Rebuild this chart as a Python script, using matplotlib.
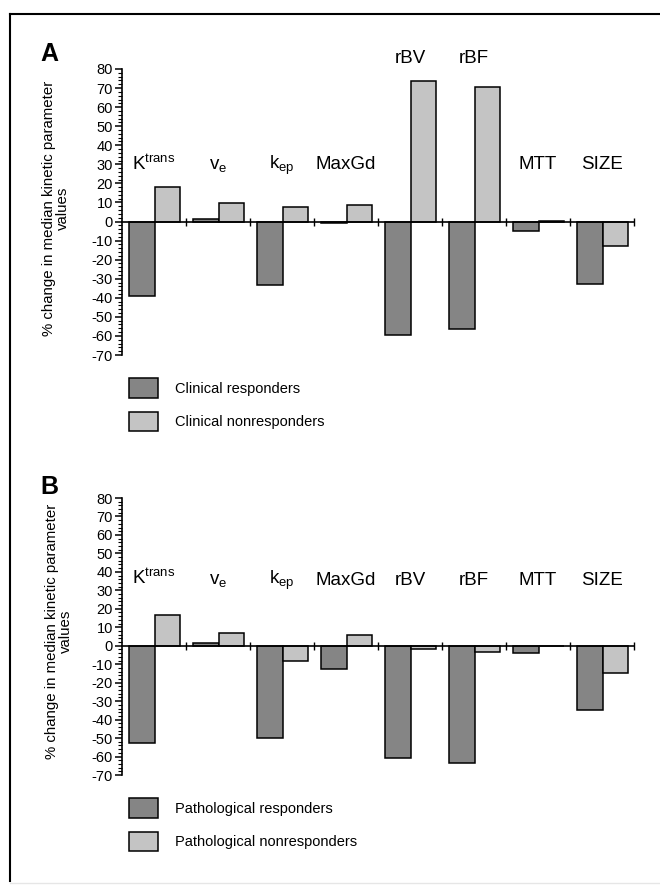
import matplotlib
matplotlib.use("Agg")
import matplotlib.pyplot as plt
import numpy as np
from matplotlib.patches import Patch
from matplotlib.lines import Line2D
from matplotlib.ticker import MultipleLocator

plt.rcParams['font.family'] = ['Liberation Sans', 'DejaVu Sans']
plt.rcParams['mathtext.fontset'] = 'custom'
plt.rcParams['mathtext.rm'] = 'Liberation Sans'
plt.rcParams['mathtext.it'] = 'Liberation Sans'

categories = [r'K$^{\mathrm{trans}}$', r'v$_{\mathrm{e}}$', r'k$_{\mathrm{ep}}$',
              'MaxGd', 'rBV', 'rBF', 'MTT', 'SIZE']

clin_resp = [-39, 1.5, -33.5, -0.7, -59.5, -56.5, -5, -32.5]
clin_nonresp = [18, 9.5, 7.5, 8.5, 73.5, 70.5, 0.5, -13]
path_resp = [-52.5, 1.5, -50, -12.5, -61, -63.5, -4, -35]
path_nonresp = [16.5, 7, -8.5, 6, -2, -3.5, 0, -14.5]

yticks = list(range(-70, 81, 10))

label_y_A = [27.3, 27.3, 27.3, 27.3, 83.2, 83.2, 27.3, 27.3]
label_y_B = [33.5, 33.5, 33.5, 32.9, 32.9, 32.9, 32.9, 32.9]

DARK = '#858585'
LIGHT = '#c4c4c4'

W, H = 660, 888
fig = plt.figure(figsize=(W / 100, H / 100), dpi=100)


def fx(px):
    return px / W


def fy(py):
    return 1 - py / H


def make_panel(top_px, bot_px, resp, nonresp, label_y, leg_labels, leg_top, letter, letter_y,
               ylab_x, ylab_y):
    ax = fig.add_axes([fx(122), fy(bot_px), fx(634) - fx(122), fy(top_px) - fy(bot_px)])
    x = np.arange(len(categories))
    ax.bar(x + 0.11, resp, width=0.4, align='edge', color=DARK, edgecolor='black', linewidth=1.1)
    ax.bar(x + 0.51, nonresp, width=0.4, align='edge', color=LIGHT, edgecolor='black', linewidth=1.1)
    ax.set_xlim(0, len(categories))
    ax.set_ylim(-70, 80)
    ax.spines['top'].set_visible(False)
    ax.spines['right'].set_visible(False)
    ax.spines['bottom'].set_position(('data', 0))
    ax.spines['left'].set_linewidth(1.2)
    ax.spines['bottom'].set_linewidth(1.2)
    ax.set_xticks(np.arange(1, len(categories) + 1))
    ax.set_xticklabels([])
    ax.tick_params(axis='x', direction='inout', length=6, width=1)
    ax.set_yticks(yticks)
    ax.set_yticklabels([str(t) for t in yticks], fontsize=10.5)
    ax.yaxis.set_minor_locator(MultipleLocator(2))
    ax.tick_params(axis='y', which='major', direction='out', length=5, width=1.1, pad=1.5)
    ax.tick_params(axis='y', which='minor', direction='out', length=3, width=0.8)
    for i, (lab, ly) in enumerate(zip(categories, label_y)):
        ax.text(i + 0.5, ly, lab, ha='center', va='baseline', fontsize=13.5, clip_on=False)
    fig.text(ylab_x, ylab_y, '% change in median kinetic parameter\nvalues', rotation=90,
             ha='center', va='center', fontsize=10.8, linespacing=1.05)
    fig.text(fx(40), letter_y, letter, fontsize=18, fontweight='bold', ha='left', va='center')
    handles = [Patch(facecolor=DARK, edgecolor='black', linewidth=1.1),
               Patch(facecolor=LIGHT, edgecolor='black', linewidth=1.1)]
    fig.legend(handles, leg_labels, loc='upper left', bbox_to_anchor=(fx(129), fy(leg_top)),
               frameon=False, fontsize=10.5, handlelength=2.0, handleheight=1.7,
               handletextpad=1.15, labelspacing=0.95, borderpad=0, borderaxespad=0)
    return ax


make_panel(69, 355, clin_resp, clin_nonresp, label_y_A,
           ['Clinical responders', 'Clinical nonresponders'], 378, 'A', fy(54),
           fx(56), fy(208))
make_panel(498, 775, path_resp, path_nonresp, label_y_B,
           ['Pathological responders', 'Pathological nonresponders'], 798, 'B', fy(487),
           fx(59), fy(631))

fig.add_artist(Line2D([fx(10), 1.0], [fy(14), fy(14)], color='black', linewidth=1.5))
fig.add_artist(Line2D([fx(10), fx(10)], [fy(14), fy(881)], color='black', linewidth=1.5))
fig.add_artist(Line2D([fx(10), 1.0], [fy(883), fy(883)], color='#e6e6e6', linewidth=1.0))

fig.savefig('out.png', dpi=100)
